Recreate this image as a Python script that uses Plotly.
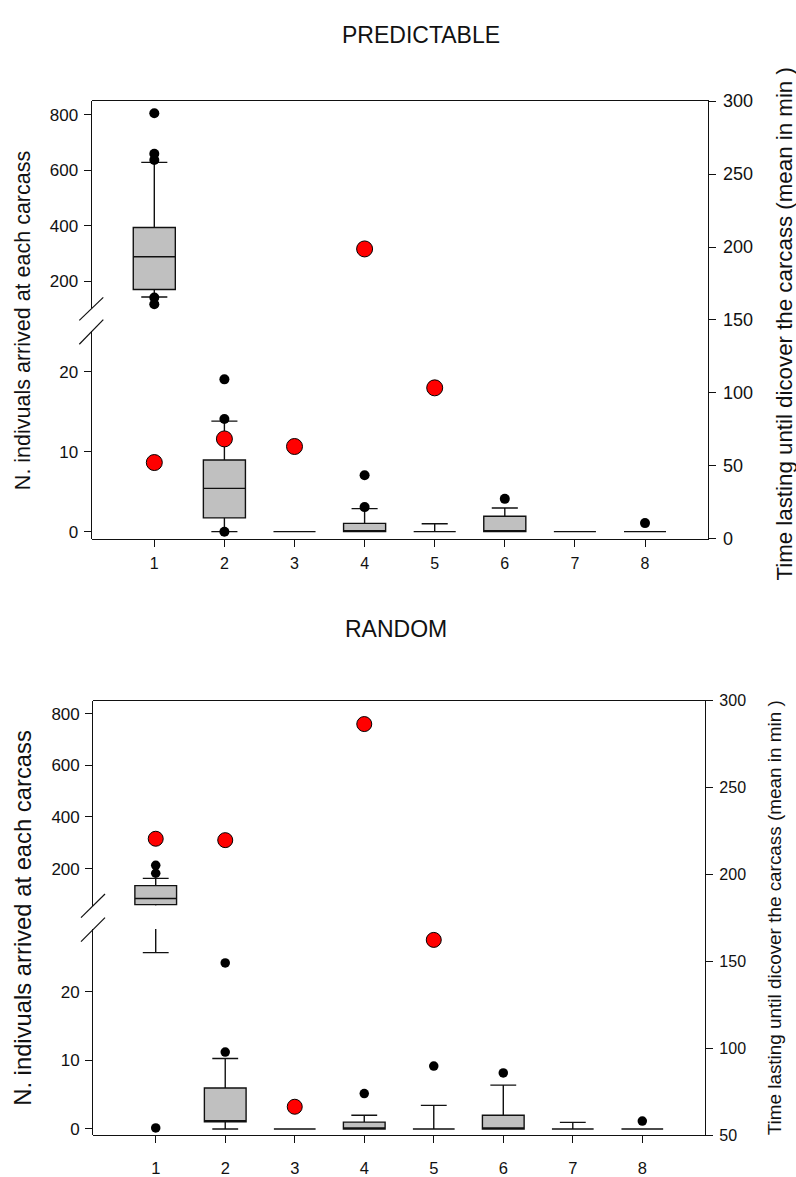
import plotly.graph_objects as go

W, H = 796, 1177

cats = [1, 2, 3, 4, 5, 6, 7, 8]

# ---------- PREDICTABLE ----------
p_q1 = [169.5, 1.72, 0, 0, 0, 0, 0, 0]
p_med = [287.7, 5.41, 0, 0, 0, 0, 0, 0]
p_q3 = [393.1, 8.97, 0, 1.03, 0, 1.93, 0, 0]
p_lo = [142, 0, 0, 0, 0, 0, 0, 0]
p_hi = [628.5, 13.82, 0, 2.88, 0.98, 2.95, 0, 0]
p_out_x = [1, 1, 1, 1, 1, 2, 2, 2, 4, 4, 6, 8]
p_out_y = [806, 660, 637, 140, 116, 19.05, 14.1, 0, 7.06, 3.07, 4.1, 1.07]
p_time_x = [1, 2, 3, 4, 5]
p_time = [52.3, 68.5, 63.3, 198.7, 103.5]

# ---------- RANDOM ----------
r_q1 = [60, 1.05, 0, 0, 0, 0, 0, 0]
r_med = [84, 1.05, 0, 0, 0, 0, 0, 0]
r_q3 = [134, 5.96, 0, 1.0, 0, 2.0, 0, 0]
r_lo = [25.7, 0, 0, 0, 0, 0, 0, 0]
r_hi = [162, 10.26, 0, 2.0, 3.44, 6.39, 0.95, 0]
r_out_x = [1, 1, 1, 2, 2, 4, 5, 6, 8]
r_out_y = [212.5, 182, 0.14, 24.2, 11.2, 5.16, 9.17, 8.17, 1.15]
r_time_x = [1, 2, 3, 4, 5]
r_time = [220.6, 219.8, 66.4, 286.6, 162.4]

up_ticks = [200, 400, 600, 800]
low_ticks = [0, 10, 20]

FONT = "Liberation Sans, Arial, sans-serif"
LC = "#111111"
LW = 1.3

fig = go.Figure()

panels = [
    dict(title="PREDICTABLE", q1=p_q1, med=p_med, q3=p_q3, lo=p_lo, hi=p_hi,
         ox=p_out_x, oy=p_out_y, tx=p_time_x, ty=p_time,
         xl=91.7, xr=708.3, top=92.7, ub=303, lt=327, bot=538,
         xr_rng=[0.107, 8.903], up_rng=[103, 850], low_rng=[-0.9, 25.04],
         right_rng=[0, 300], right_ticks=[0, 50, 100, 150, 200, 250, 300],
         xax="x", yu="y", yl="y2", yr="y3",
         lfont=17, rfont=18, xfont=16, red=16, blk=10, xstand=3,
         ltitle=("N. indivuals arrived at each carcass", 22.5, 316, 21.5),
         rtitle=("Time lasting until dicover the carcass (mean in min )", 785, 320, 22.3),
         ttl=(421, 25),
         breaks=[((79.3, 315.7), (103.3, 292.3)), ((79.3, 340), (103.3, 315))]),
    dict(title="RANDOM", q1=r_q1, med=r_med, q3=r_q3, lo=r_lo, hi=r_hi,
         ox=r_out_x, oy=r_out_y, tx=r_time_x, ty=r_time,
         xl=93.3, xr=705, top=702.7, ub=911, lt=935, bot=1144.7,
         xr_rng=[0.102, 8.902], up_rng=[57, 850], low_rng=[-0.92, 29.13],
         right_rng=[50, 300], right_ticks=[50, 100, 150, 200, 250, 300],
         xax="x2", yu="y4", yl="y5", yr="y6",
         lfont=17, rfont=16, xfont=16.5, red=15, blk=9.5, xstand=11,
         ltitle=("N. indivuals arrived at each carcass", 22.5, 924, 23.8),
         rtitle=("Time lasting until dicover the carcass (mean in min )", 774, 924, 18.9),
         ttl=(395.5, 630),
         breaks=[((81, 923.3), (105, 899.3)), ((81, 947.7), (105, 923.3))]),
]

def ax_name(ref):
    return ("xaxis" if ref[0] == "x" else "yaxis") + ref[1:]

layout = dict(width=W, height=H, margin=dict(l=0, r=0, t=0, b=0),
              paper_bgcolor="white", plot_bgcolor="rgba(0,0,0,0)",
              showlegend=False, boxmode="overlay",
              font=dict(family=FONT, color="black"))
annotations = []
shapes = []

for p in panels:
    # boxes on both left segments
    for yref in (p["yu"], p["yl"]):
        fig.add_trace(go.Box(
            x=cats, q1=p["q1"], median=p["med"], q3=p["q3"],
            lowerfence=p["lo"], upperfence=p["hi"],
            width=0.6, whiskerwidth=0.62, boxpoints=False,
            fillcolor="#c0c0c0", line=dict(color=LC, width=1.4),
            xaxis=p["xax"], yaxis=yref, hoverinfo="skip"))
    # outliers split by segment
    thr = p["low_rng"][1]
    ux = [x for x, y in zip(p["ox"], p["oy"]) if y > thr]
    uy = [y for y in p["oy"] if y > thr]
    lx = [x for x, y in zip(p["ox"], p["oy"]) if y <= thr]
    ly = [y for y in p["oy"] if y <= thr]
    for xs, ys, yref in ((ux, uy, p["yu"]), (lx, ly, p["yl"])):
        fig.add_trace(go.Scatter(
            x=xs, y=ys, mode="markers", cliponaxis=False,
            marker=dict(color="black", size=p["blk"], line=dict(width=0)),
            xaxis=p["xax"], yaxis=yref, hoverinfo="skip"))
    # red time points on the right axis
    fig.add_trace(go.Scatter(
        x=p["tx"], y=p["ty"], mode="markers", cliponaxis=False,
        marker=dict(color="#ff0000", size=p["red"], line=dict(color="black", width=1)),
        xaxis=p["xax"], yaxis=p["yr"], hoverinfo="skip"))

    xd = [p["xl"] / W, p["xr"] / W]
    yr = p["yr"]
    layout[ax_name(p["xax"])] = dict(
        domain=xd, range=p["xr_rng"], anchor=yr, showline=True, mirror=True,
        linecolor=LC, linewidth=LW, ticks="outside", ticklen=7, tickwidth=1.2,
        tickcolor=LC, tickvals=cats, tickfont=dict(size=p["xfont"], color="#111"),
        showgrid=False, zeroline=False, ticklabelstandoff=p["xstand"])
    common = dict(anchor=p["xax"], showline=True, linecolor=LC, linewidth=LW,
                  ticks="outside", ticklen=7, tickwidth=1.2, tickcolor=LC,
                  showgrid=False, zeroline=False)
    layout[ax_name(p["yu"])] = dict(
        domain=[1 - p["ub"] / H, 1 - p["top"] / H], range=p["up_rng"],
        tickvals=up_ticks, tickfont=dict(size=p["lfont"], color="#111"),
        ticklabelstandoff=2, **common)
    layout[ax_name(p["yl"])] = dict(
        domain=[1 - p["bot"] / H, 1 - p["lt"] / H], range=p["low_rng"],
        tickvals=low_ticks, tickfont=dict(size=p["lfont"], color="#111"),
        ticklabelstandoff=2, **common)
    layout[ax_name(p["yr"])] = dict(
        domain=[1 - p["bot"] / H, 1 - p["top"] / H], range=p["right_rng"],
        side="right", tickvals=p["right_ticks"],
        tickfont=dict(size=p["rfont"], color="#111"), ticklabelstandoff=3, **common)

    t, tx, ty, ts = p["ltitle"]
    annotations.append(dict(text=t, x=tx / W, y=1 - ty / H, xref="paper", yref="paper",
                            textangle=-90, showarrow=False, xanchor="center", yanchor="middle",
                            font=dict(size=ts, color="#111", family=FONT)))
    t, tx, ty, ts = p["rtitle"]
    annotations.append(dict(text=t, x=tx / W, y=1 - ty / H, xref="paper", yref="paper",
                            textangle=-90, showarrow=False, xanchor="center", yanchor="middle",
                            font=dict(size=ts, color="#111", family=FONT)))
    annotations.append(dict(text=p["title"], x=p["ttl"][0] / W, y=1 - p["ttl"][1] / H,
                            xref="paper", yref="paper", showarrow=False,
                            xanchor="center", yanchor="middle",
                            font=dict(size=23, color="#111", family=FONT)))
    for (x0, y0), (x1, y1) in p["breaks"]:
        shapes.append(dict(type="line", xref="paper", yref="paper",
                           x0=x0 / W, y0=1 - y0 / H, x1=x1 / W, y1=1 - y1 / H,
                           line=dict(color=LC, width=1.2)))

layout["annotations"] = annotations
layout["shapes"] = shapes
fig.update_layout(**layout)
fig.write_html("out.html")
